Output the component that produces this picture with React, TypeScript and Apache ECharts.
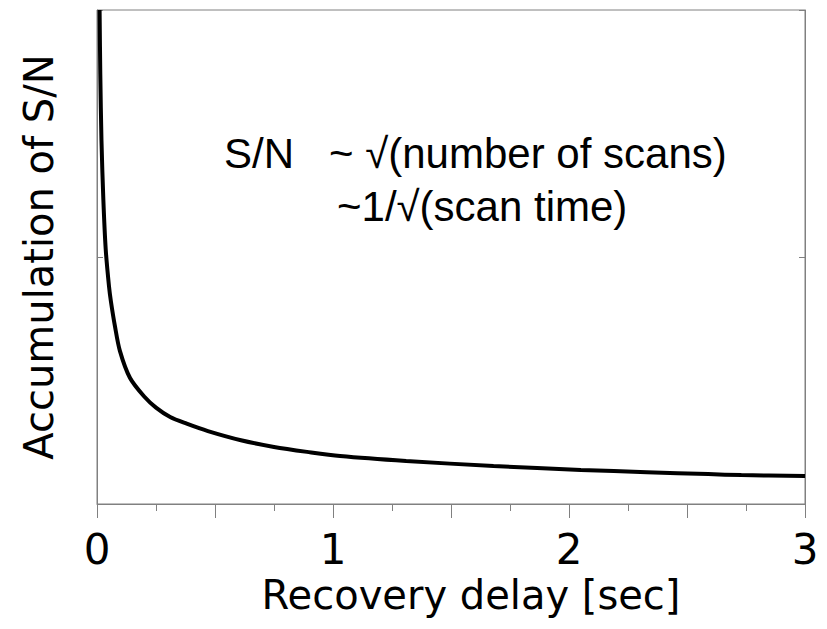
import React, { useEffect, useRef } from "react";
import * as echarts from "echarts";

const delaySec = [0.011, 0.014, 0.019, 0.027, 0.037, 0.051, 0.059, 0.076, 0.097, 0.14, 0.2, 0.25, 0.31, 0.38, 0.47, 0.61, 0.75, 0.89, 1.03, 1.31, 1.68, 2.05, 2.33, 2.59, 2.73, 3.0];
const snAccum = [2.0, 1.74, 1.47, 1.23, 1.03, 0.88, 0.82, 0.72, 0.62, 0.51, 0.435, 0.39, 0.352, 0.325, 0.295, 0.258, 0.231, 0.211, 0.194, 0.174, 0.154, 0.138, 0.129, 0.121, 0.117, 0.113];
const xTicks = [0, 1, 2, 3];
const noteLine1 = "S/N   ~ \u221A(number of scans)";
const noteLine2 = "~1/\u221A(scan time)";

const labelFont = '"Comic Sans MS", "DejaVu Sans", sans-serif';
const noteFont = '42px "Liberation Sans", Arial, sans-serif';
const axisGrey = "#808080";

export default function App() {
  const ref = useRef<HTMLDivElement>(null);
  useEffect(() => {
    if (!ref.current) return;
    const chart = echarts.init(ref.current, undefined, { renderer: "svg" });
    chart.setOption({
      animation: false,
      backgroundColor: "#ffffff",
      grid: {
        left: 97,
        right: 22,
        top: 10,
        bottom: 125,
        show: true,
        borderColor: axisGrey,
        borderWidth: 1,
        containLabel: false,
        outerBoundsMode: "none",
      },
      xAxis: {
        type: "value",
        min: 0,
        max: 3,
        interval: 0.5,
        name: "Recovery delay [sec]",
        nameLocation: "middle",
        nameGap: 42,
        nameTextStyle: { fontFamily: labelFont, fontSize: 40, color: "#000", padding: [0, 0, 0, 40] },
        axisLine: { show: true, lineStyle: { color: axisGrey, width: 1 } },
        axisTick: { show: true, length: 14, lineStyle: { color: axisGrey } },
        minorTick: { show: true, splitNumber: 2, length: 7, lineStyle: { color: axisGrey } },
        axisLabel: {
          fontFamily: labelFont,
          fontSize: 42,
          color: "#000",
          margin: 24,
          formatter: (v: number) => (xTicks.indexOf(v) >= 0 ? String(v) : ""),
        },
        splitLine: { show: false },
      },
      yAxis: [
        {
          type: "value",
          min: 0,
          max: 2,
          interval: 1,
          position: "left",
          name: "Accumulation of S/N",
          nameLocation: "middle",
          nameGap: 38,
          nameTextStyle: { fontFamily: labelFont, fontSize: 40, color: "#000" },
          axisLine: { show: true, lineStyle: { color: axisGrey } },
          axisTick: { show: true, inside: true, length: 6, lineStyle: { color: axisGrey } },
          axisLabel: { show: false },
          splitLine: { show: false },
        },
        {
          type: "value",
          min: 0,
          max: 2,
          interval: 1,
          position: "right",
          axisLine: { show: true, lineStyle: { color: axisGrey } },
          axisTick: { show: true, inside: true, length: 6, lineStyle: { color: axisGrey } },
          axisLabel: { show: false },
          splitLine: { show: false },
        },
      ],
      series: [
        {
          type: "line",
          yAxisIndex: 0,
          data: delaySec.map((t, i) => [t, snAccum[i]]),
          smooth: 0.3,
          showSymbol: false,
          lineStyle: { color: "#000", width: 4 },
          clip: true,
        },
      ],
      graphic: [
        {
          type: "text",
          left: 224,
          top: 132,
          style: { text: noteLine1, font: noteFont, fill: "#000" },
        },
        {
          type: "text",
          left: 337,
          top: 185,
          style: { text: noteLine2, font: noteFont, fill: "#000" },
        },
      ],
    });
    return () => chart.dispose();
  }, []);
  return <div ref={ref} style={{ position: "fixed", left: 0, top: 0, width: 827, height: 629 }} />;
}
